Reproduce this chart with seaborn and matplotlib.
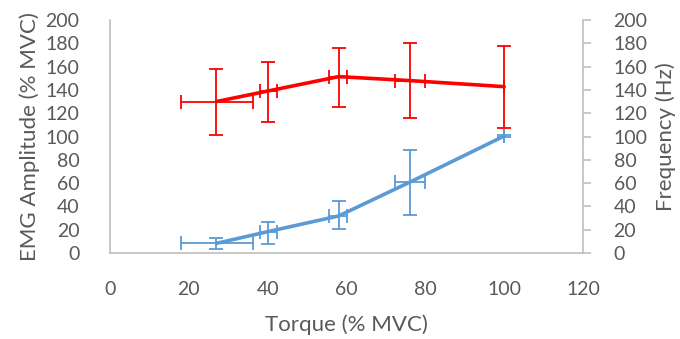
import matplotlib
matplotlib.use("Agg")
import matplotlib.pyplot as plt
import seaborn as sns
import pandas as pd
import numpy as np

# Data
torque = [27, 40, 58, 76, 100]
torque_lo = [18, 38, 55.5, 72.3, 100]
torque_hi = [36.4, 42.3, 60.2, 79.9, 100]

emg = [8.3, 18.3, 31.8, 60.7, 100.4]
emg_lo = [3.2, 7.4, 20.3, 32.6, 99.5]
emg_hi = [12.6, 26.9, 44.6, 88.4, 101.3]

freq = [130, 139, 151.4, 148, 142.8]
freq_lo = [101.3, 112.2, 125.6, 115.6, 107.6]
freq_hi = [157.7, 164.2, 176.2, 180, 177.7]

sns.set_theme(style="white")
plt.rcParams['font.family'] = ['Lato', 'DejaVu Sans']

grey_txt = "#595959"
grey_ax = "#bfbfbf"
blue = "#5B9BD5"
red = "#FF0000"

df_emg = pd.DataFrame({"torque": torque, "value": emg})
df_freq = pd.DataFrame({"torque": torque, "value": freq})

fig = plt.figure(figsize=(6.8, 3.39), dpi=100)
ax = fig.add_axes([110/680, 1-253/339, 473/680, 233/339])
ax2 = ax.twinx()

def err(vals, lo, hi):
    v = np.array(vals); return [v - np.array(lo), np.array(hi) - v]

sns.lineplot(data=df_emg, x="torque", y="value", ax=ax, color=blue, lw=2.6, zorder=3)
ax.errorbar(torque, emg, yerr=err(emg, emg_lo, emg_hi), xerr=err(torque, torque_lo, torque_hi),
            fmt="none", ecolor=blue, elinewidth=1.3, capsize=5, capthick=1.3, zorder=3)

sns.lineplot(data=df_freq, x="torque", y="value", ax=ax2, color=red, lw=2.6, zorder=3)
ax2.errorbar(torque, freq, yerr=err(freq, freq_lo, freq_hi), xerr=err(torque, torque_lo, torque_hi),
             fmt="none", ecolor=red, elinewidth=1.3, capsize=5, capthick=1.3, zorder=3)

for a in (ax, ax2):
    a.set_xlim(0, 120)
    a.set_ylim(0, 200)
    a.set_yticks(np.arange(0, 201, 20))
    a.spines['top'].set_visible(False)
    for s in ('left', 'right', 'bottom'):
        a.spines[s].set_color(grey_ax)
        a.spines[s].set_linewidth(1.2)

ax.set_xticks(np.arange(0, 121, 20))
ax.tick_params(axis='both', colors=grey_txt, labelsize=14, length=0)
ax.tick_params(axis='y', pad=22)
ax.tick_params(axis='x', pad=20)
ax2.tick_params(axis='y', colors=grey_ax, labelcolor=grey_txt, labelsize=14, length=6, width=1.2, direction='out', pad=16)
ax.spines['right'].set_visible(False)
ax2.spines['left'].set_visible(False)
ax2.spines['bottom'].set_visible(False)

ax.set_xlabel("Torque (% MVC)", color=grey_txt, fontsize=16, labelpad=12)
ax.set_ylabel("EMG Amplitude (% MVC)", color=grey_txt, fontsize=16, labelpad=4)
ax2.set_ylabel("Frequency (Hz)", color=grey_txt, fontsize=16, labelpad=6)

fig.savefig("out.png", dpi=100)
